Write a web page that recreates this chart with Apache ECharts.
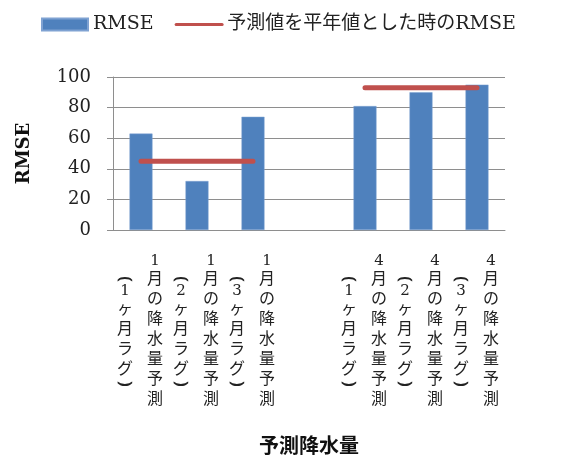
<!DOCTYPE html>
<html>
<head>
<meta charset="utf-8">
<script src="https://cdn.jsdelivr.net/npm/echarts@6/dist/echarts.min.js"></script>
<style>
  html, body { margin: 0; padding: 0; background: #fff; }
  #chart { width: 586px; height: 461px; }
</style>
</head>
<body>
<div id="chart"></div>
<script>
// data
const monthLabels = ['1月の降水量予測', '1月の降水量予測', '1月の降水量予測', '', '4月の降水量予測', '4月の降水量予測', '4月の降水量予測']
const lagLabels = ['（1ヶ月ラグ）', '（2ヶ月ラグ）', '（3ヶ月ラグ）', '', '（1ヶ月ラグ）', '（2ヶ月ラグ）', '（3ヶ月ラグ）']
const rmseValues = [63, 32, 74, null, 81, 90, 95]
const climatologyRmse = [45, 45, 45, null, 93, 93, 93]
const yTicks = [0, 20, 40, 60, 80, 100]

const serif = "'DejaVu Serif', 'Noto Sans CJK JP', serif"
const cjk = "'Noto Sans CJK JP', sans-serif"
const gridColor = '#8e8e8e'

// stack characters one per line (tategaki), parentheses drawn as arcs
const digits = '0123456789'
const toVertical = (s) => {
  if (!s) return ''
  return Array.from(s).map(c => {
    if (c === '（' || c === '(') return '{p|⌢}'
    if (c === '）' || c === ')') return '{p|⌣}'
    return digits.includes(c) ? `{h|${c}}` : `{f|${c}}`
  }).join('\n')
}

const labelRich = {
  f: { fontSize: 16, lineHeight: 20, fontFamily: cjk, color: '#222', align: 'center' },
  h: { fontSize: 15, lineHeight: 13, fontFamily: serif, color: '#222', align: 'center' },
  p: { fontSize: 27, lineHeight: 11, fontFamily: "'DejaVu Sans', sans-serif", color: '#222', align: 'center' }
}

const chart = echarts.init(document.getElementById('chart'))

chart.setOption({
  animation: false,
  legend: {
    top: 10,
    left: 36,
    itemWidth: 46,
    itemHeight: 12,
    itemGap: 21,
    textStyle: { fontFamily: serif, fontSize: 19, color: '#222' },
    data: [
      { name: 'RMSE', icon: 'rect' },
      { name: '予測値を平年値とした時のRMSE', lineStyle: { width: 3 }, itemStyle: { opacity: 0 } }
    ]
  },
  grid: { left: 113, right: 81, top: 77, bottom: 231 },
  xAxis: [
    {
      type: 'category',
      position: 'bottom',
      data: monthLabels,
      boundaryGap: true,
      axisLine: { lineStyle: { color: gridColor } },
      axisTick: { length: 6, lineStyle: { color: gridColor } },
      axisLabel: {
        interval: 0,
        margin: 101,
        verticalAlign: 'middle',
        align: 'center',
        padding: [0, 0, 0, 28],
        formatter: toVertical,
        rich: labelRich
      },
      name: '予測降水量',
      nameLocation: 'middle',
      nameGap: 205,
      nameTextStyle: { fontFamily: cjk, fontSize: 20, fontWeight: 'bold', color: '#111' }
    },
    {
      type: 'category',
      position: 'bottom',
      data: lagLabels,
      boundaryGap: true,
      axisLine: { show: false },
      axisTick: { show: false },
      splitLine: { show: false },
      axisLabel: {
        interval: 0,
        margin: 101,
        verticalAlign: 'middle',
        align: 'center',
        padding: [0, 32, 0, 0],
        formatter: toVertical,
        rich: labelRich
      }
    }
  ],
  yAxis: {
    type: 'value',
    min: 0,
    max: 100,
    interval: 20,
    axisLine: { show: true, lineStyle: { color: gridColor } },
    axisTick: { show: true, length: 6, lineStyle: { color: gridColor } },
    splitLine: { lineStyle: { color: gridColor, width: 1 } },
    axisLabel: {
      margin: 22,
      fontFamily: serif,
      fontSize: 18,
      color: '#222',
      formatter: v => (yTicks.includes(v) ? String(v) : '')
    },
    name: 'RMSE',
    nameLocation: 'middle',
    nameGap: 80,
    nameRotate: 90,
    nameTextStyle: { fontFamily: serif, fontSize: 18, fontWeight: 'bold', color: '#111' }
  },
  series: [
    {
      name: 'RMSE',
      type: 'bar',
      xAxisIndex: 0,
      data: rmseValues,
      barWidth: 23,
      itemStyle: { color: '#4F81BD', borderColor: '#7fa2d2', borderWidth: 0.5 }
    },
    {
      name: '予測値を平年値とした時のRMSE',
      type: 'line',
      xAxisIndex: 0,
      data: climatologyRmse,
      symbol: 'none',
      connectNulls: false,
      itemStyle: { color: '#C0504D' },
      lineStyle: { color: '#C0504D', width: 5, cap: 'round' }
    }
  ]
})
</script>
</body>
</html>
